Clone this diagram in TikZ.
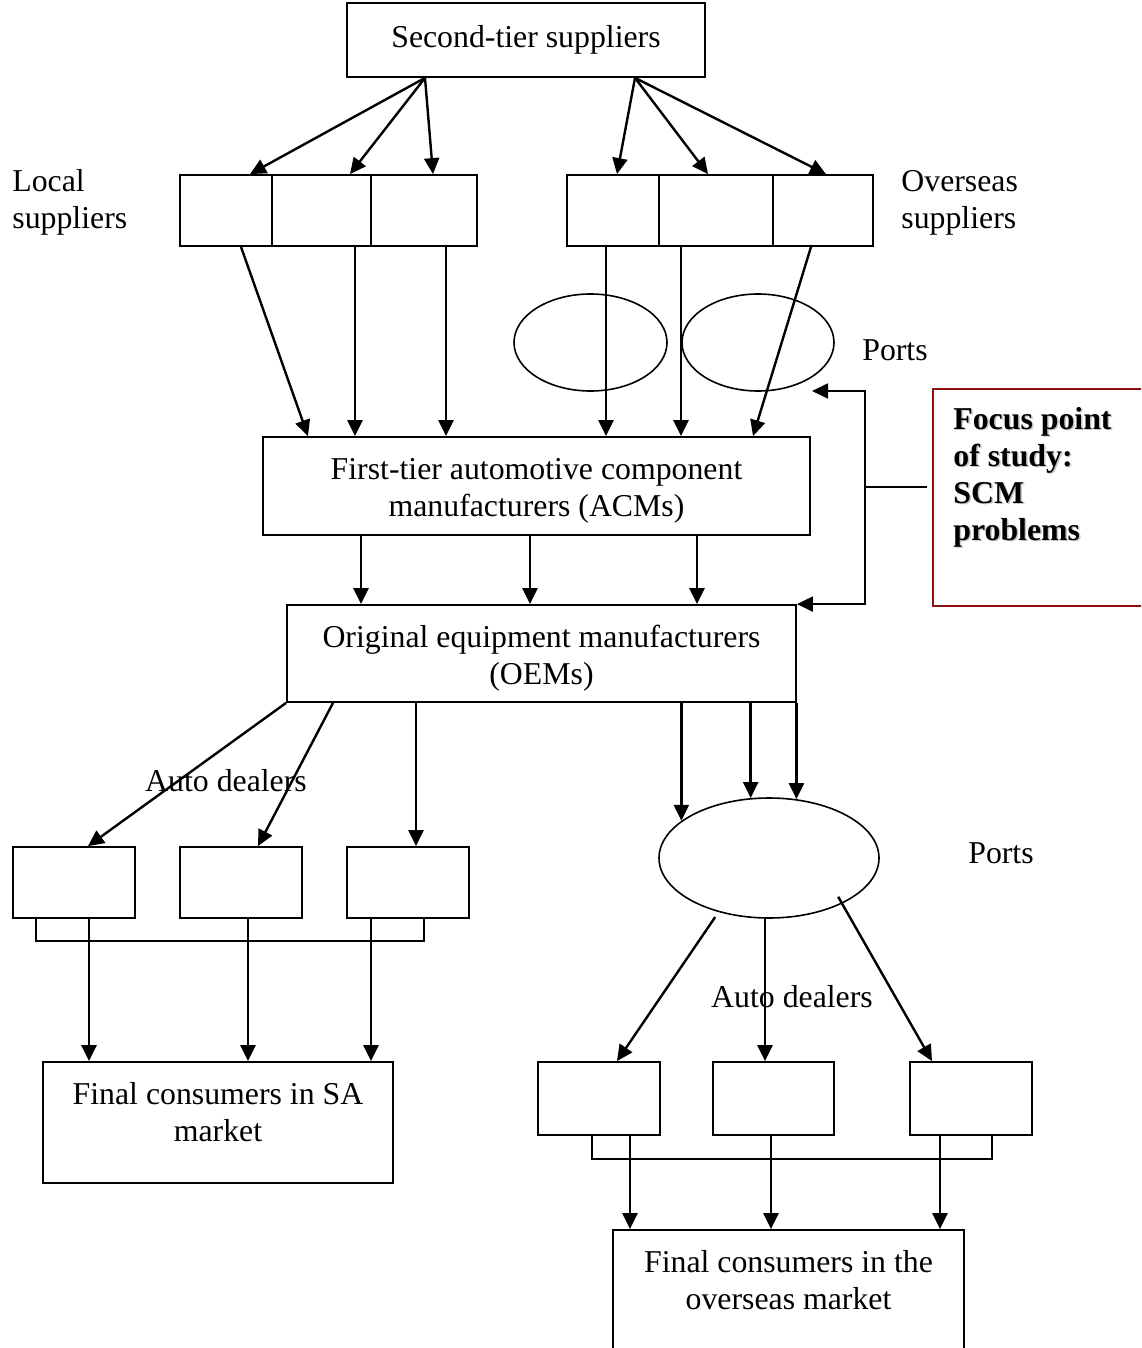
\documentclass[tikz,border=0pt]{standalone}
\usepackage{fontspec}
\setmainfont{Liberation Serif}
\usetikzlibrary{arrows.meta,shapes.geometric}
\definecolor{focusred}{RGB}{140,16,16}
\begin{document}
\begin{tikzpicture}[x=0.5pt,y=-0.5pt,
  every node/.style={font=\fontsize{15.9}{18.5}\selectfont},
  box/.style={draw,rectangle,inner sep=0pt,line width=0.9pt,align=center},
  port/.style={draw,ellipse,inner sep=0pt,line width=0.8pt},
  txt/.style={inner sep=0pt,align=left},
  flow/.style={line width=1.2pt,-{Triangle[length=8pt,width=7.5pt]}},
  link/.style={line width=0.9pt}]
\useasboundingbox (0,0) rectangle (1141,1348);
\clip (0,0) rectangle (1141,1348);

% second tier and supplier groups
\node[box,minimum width=179pt,minimum height=37pt] (st) at (526,40) {Second-tier suppliers};
\node[box,minimum width=46pt,minimum height=35.5pt] (ls1) at (226,210.5) {};
\node[box,minimum width=49.5pt,minimum height=35.5pt] (ls2) at (321.5,210.5) {};
\node[box,minimum width=53pt,minimum height=35.5pt] (ls3) at (424,210.5) {};
\node[box,minimum width=46pt,minimum height=35.5pt] (os1) at (613,210.5) {};
\node[box,minimum width=57pt,minimum height=35.5pt] (os2) at (716,210.5) {};
\node[box,minimum width=50pt,minimum height=35.5pt] (os3) at (823,210.5) {};
\node[txt,anchor=west] (loc) at (12,202.5) {Local\\suppliers};
\node[txt,anchor=west] (ovs) at (901,202.5) {Overseas\\suppliers};

% inbound ports
\node[port,minimum width=76.5pt,minimum height=48.5pt] (pl) at (590.5,342.5) {};
\node[port,minimum width=76pt,minimum height=48.5pt] (pr) at (758,342.5) {};
\node[txt] (ports1) at (895,350) {Ports};

% manufacturers
\node[box,minimum width=273.5pt,minimum height=49pt] (acm) at (536.5,486)
  {\rule{0pt}{15pt}First-tier automotive component\\manufacturers (ACMs)};
\node[box,minimum width=254.5pt,minimum height=48.5pt] (oem) at (541.5,653.5)
  {\rule{0pt}{16pt}Original equipment manufacturers\\(OEMs)};

% focus of study
\node[draw=focusred,line width=0.8pt,rectangle,minimum width=113.5pt,minimum height=108.5pt] (focus) at (1046.5,497.5) {};
\node[txt,anchor=west,text=black!22,font=\fontsize{15.9}{18.5}\selectfont\bfseries] (fpshade) at (954.5,478.5)
  {Focus point\\of study:\\SCM\\problems};
\node[txt,anchor=west,font=\fontsize{15.9}{18.5}\selectfont\bfseries] (fp) at (953,477)
  {Focus point\\of study:\\SCM\\problems};
\coordinate (fb) at (865,487);
\coordinate (fe) at (927,487);
\coordinate (prin) at (812,391);
\draw[link] (fb) -- (fe);
\draw[flow,line width=0.9pt] (fb) |- (prin);
\draw[flow,line width=0.9pt] (fb) |- (oem.north east);

% local distribution
\node[box,minimum width=61pt,minimum height=35.5pt] (d1) at (74,882.5) {};
\node[box,minimum width=61pt,minimum height=35.5pt] (d2) at (241,882.5) {};
\node[box,minimum width=61pt,minimum height=35.5pt] (d3) at (408,882.5) {};
\node[txt] (ad1) at (226,781) {Auto dealers};
\node[box,minimum width=175pt,minimum height=60.5pt] (sa) at (218,1122.5) {};
\node[txt,align=center] (satext) at (218,1112) {Final consumers in SA\\market};

% export distribution
\node[port,minimum width=110pt,minimum height=60pt] (port) at (769,858) {};
\node[txt] (ports2) at (1001,853) {Ports};
\node[txt] (ad2) at (792,997) {Auto dealers};
\node[box,minimum width=61pt,minimum height=36.5pt] (e1) at (599,1098.5) {};
\node[box,minimum width=60.5pt,minimum height=36.5pt] (e2) at (773.5,1098.5) {};
\node[box,minimum width=61pt,minimum height=36.5pt] (e3) at (971,1098.5) {};
\node[box,minimum width=175.5pt,minimum height=80pt] (ov) at (788.5,1310) {};
\node[txt,align=center] (ovtext) at (788.5,1280) {Final consumers in the\\overseas market};

% second tier to suppliers
\draw[flow] ([xshift=-50.5pt]st.south) -- ([xshift=12pt]ls1.north);
\draw[flow] ([xshift=-50.5pt]st.south) -- ([xshift=14.25pt]ls2.north);
\draw[flow] ([xshift=-50.5pt]st.south) -- ([xshift=4.5pt]ls3.north);
\draw[flow] ([xshift=54.5pt]st.south) -- ([xshift=2pt]os1.north);
\draw[flow] ([xshift=54.5pt]st.south) -- ([xshift=-4pt]os2.north);
\draw[flow] ([xshift=54.5pt]st.south) -- ([xshift=1.5pt]os3.north);

% suppliers to ACMs
\draw[flow] ([xshift=7.5pt]ls1.south) -- ([xshift=-114.25pt]acm.north);
\draw[flow] ([xshift=16.75pt]ls2.south) -- ([xshift=16.75pt]ls2.south |- acm.north);
\draw[flow] ([xshift=11pt]ls3.south) -- ([xshift=11pt]ls3.south |- acm.north);
\draw[flow] ([xshift=-3.5pt]os1.south) -- ([xshift=-3.5pt]os1.south |- acm.north);
\draw[flow] ([xshift=-17.5pt]os2.south) -- ([xshift=-17.5pt]os2.south |- acm.north);
\draw[flow] ([xshift=-6pt]os3.south) -- ([xshift=108.25pt]acm.north);

% ACMs to OEMs
\draw[flow] ([xshift=-87.75pt]acm.south) -- ([xshift=-87.75pt]acm.south |- oem.north);
\draw[flow] ([xshift=-3.25pt]acm.south) -- ([xshift=-3.25pt]acm.south |- oem.north);
\draw[flow] ([xshift=80.25pt]acm.south) -- ([xshift=80.25pt]acm.south |- oem.north);

% OEMs to local dealers and export port
\draw[flow] (oem.south west) -- ([xshift=7pt]d1.north);
\draw[flow] ([xshift=-104.25pt]oem.south) -- ([xshift=8.5pt]d2.north);
\draw[flow] ([xshift=-62.75pt]oem.south) -- ([xshift=-62.75pt]oem.south |- d3.north);
\draw[flow] (port.157.75 |- oem.south) -- (port.157.75);
\draw[flow] (port.107.8 |- oem.south) -- (port.107.8);
\draw[flow] (port.65.1 |- oem.south) -- (port.65.1);

% local dealers to SA market
\draw[link] ([xshift=-19pt]d1.south) -- ++(0,22) -| ([xshift=8pt]d3.south);
\draw[flow] ([xshift=7.5pt]d1.south) -- ([xshift=7.5pt]d1.south |- sa.north);
\draw[flow] ([xshift=3.5pt]d2.south) -- ([xshift=3.5pt]d2.south |- sa.north);
\draw[flow] ([xshift=-18.5pt]d3.south) -- ([xshift=-18.5pt]d3.south |- sa.north);

% port to overseas dealers
\draw[flow,shorten <=3pt] (port.227.8) -- ([xshift=9pt]e1.north);
\draw[flow] ([xshift=-2pt]port.south) -- ([xshift=-2pt]port.south |- e2.north);
\draw[flow,shorten <=-4pt] (port.328.4) -- ([xshift=-19.5pt]e3.north);

% overseas dealers to overseas market
\draw[link] ([xshift=-3.5pt]e1.south) -- ++(0,23) -| ([xshift=10.5pt]e3.south);
\draw[flow] ([xshift=15.5pt]e1.south) -- ([xshift=15.5pt]e1.south |- ov.north);
\draw[flow] ([xshift=-1.25pt]e2.south) -- ([xshift=-1.25pt]e2.south |- ov.north);
\draw[flow] ([xshift=-15.5pt]e3.south) -- ([xshift=-15.5pt]e3.south |- ov.north);
\end{tikzpicture}
\end{document}
